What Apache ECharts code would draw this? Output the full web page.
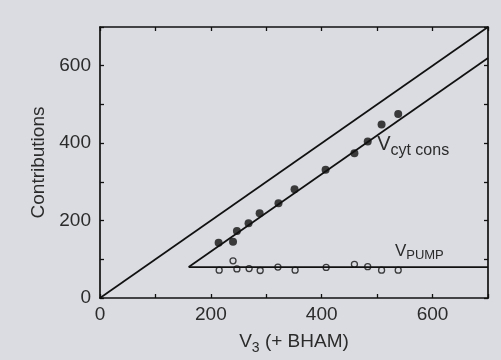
<!DOCTYPE html>
<html>
<head>
<meta charset="utf-8">
<script src="https://cdn.jsdelivr.net/npm/echarts@6/dist/echarts.min.js"></script>
<style>
html,body{margin:0;padding:0;background:#dadce2;}
#chart{width:501px;height:360px;}
</style>
</head>
<body>
<div id="chart"></div>
<script>
// ---- data ----
var xTickLabels = [0, 200, 400, 600];
var yTickLabels = [0, 200, 400, 600];
var identityLine = [[0, 0], [700, 700]];
var cytConsLine = [[160, 80], [700, 620]];
var pumpLine = [[160, 80], [700, 80]];
var cytConsPoints = [[214,143],[240,145],[247,173],[268,193],[288,219],[322,245],[351,281],[407,331],[459,374],[483,404],[508,448],[538,475]];
var pumpPoints = [[215,72],[240,96],[247,75],[269,76],[289,71],[321,80],[352,72],[408,79],[459,87],[483,81],[508,72],[538,72]];
var cytLabelAt = [500, 396];
var pumpLabelAt = [532, 121];

var FONT = "'Liberation Sans', Arial, sans-serif";
var INK = '#111';
var TXT = '#2b2b2b';

function axisBase(pos, showLabel, ticks) {
  return {
    type: 'value', min: 0, max: 700, interval: 100, position: pos,
    axisLine: { show: true, onZero: false, lineStyle: { color: INK, width: 1.7 } },
    axisTick: { show: true, inside: true, length: 4, lineStyle: { color: INK, width: 1.3 } },
    splitLine: { show: false },
    axisLabel: {
      show: showLabel, fontFamily: FONT, fontSize: 19, color: TXT, margin: 7,
      formatter: function (v) { return ticks.indexOf(v) >= 0 ? String(v) : ''; }
    }
  };
}

var chart = echarts.init(document.getElementById('chart'), null, { renderer: 'canvas' });

var xBottom = axisBase('bottom', true, xTickLabels);
xBottom.name = '{v|V}{s|3}{t| (+ BHAM)}';
xBottom.nameLocation = 'middle';
xBottom.nameGap = 30;
xBottom.nameTextStyle = {
  fontFamily: FONT, color: TXT,
  rich: {
    v: { fontFamily: FONT, fontSize: 19, lineHeight: 27, color: TXT },
    s: { fontFamily: FONT, fontSize: 14, lineHeight: 14, verticalAlign: 'bottom', color: TXT },
    t: { fontFamily: FONT, fontSize: 19, lineHeight: 27, color: TXT }
  }
};
var xTop = axisBase('top', false, xTickLabels);

var yLeft = axisBase('left', true, yTickLabels);
yLeft.axisLabel.margin = 9;
yLeft.name = 'Contributions';
yLeft.nameLocation = 'middle';
yLeft.nameGap = 50;
yLeft.nameTextStyle = { fontFamily: FONT, fontSize: 19, color: TXT };
var yRight = axisBase('right', false, yTickLabels);

chart.setOption({
  backgroundColor: '#dadce2',
  animation: false,
  grid: { left: 100, right: 13, top: 27, bottom: 62, containLabel: false },
  xAxis: [xBottom, xTop],
  yAxis: [yLeft, yRight],
  series: [
    { type: 'line', data: identityLine, symbol: 'none', lineStyle: { color: INK, width: 1.7 }, silent: true },
    { type: 'line', data: cytConsLine, symbol: 'none', lineStyle: { color: INK, width: 1.7 }, silent: true,
      markPoint: {
        symbol: 'circle', symbolSize: 0,
        data: [{ coord: cytLabelAt, value: 'cyt' }],
        label: {
          show: true, position: 'inside', align: 'left', verticalAlign: 'middle',
          formatter: '{v|V}{s|cyt cons}',
          rich: {
            v: { fontFamily: FONT, fontSize: 20, lineHeight: 27, color: TXT },
            s: { fontFamily: FONT, fontSize: 16, lineHeight: 16, verticalAlign: 'bottom', color: TXT }
          }
        }
      }
    },
    { type: 'line', data: pumpLine, symbol: 'none', lineStyle: { color: INK, width: 1.7 }, silent: true,
      markPoint: {
        symbol: 'circle', symbolSize: 0,
        data: [{ coord: pumpLabelAt, value: 'pump' }],
        label: {
          show: true, position: 'inside', align: 'left', verticalAlign: 'middle',
          formatter: '{v|V}{s|PUMP}',
          rich: {
            v: { fontFamily: FONT, fontSize: 17, lineHeight: 22, color: TXT },
            s: { fontFamily: FONT, fontSize: 13, lineHeight: 15, verticalAlign: 'bottom', color: TXT }
          }
        }
      }
    },
    { type: 'scatter', data: cytConsPoints, symbol: 'circle', symbolSize: 8,
      itemStyle: { color: INK, borderWidth: 0 }, silent: true },
    { type: 'scatter', data: pumpPoints, symbol: 'circle', symbolSize: 6,
      itemStyle: { color: 'rgba(0,0,0,0)', borderColor: INK, borderWidth: 1.3 }, silent: true }
  ]
});
</script>
</body>
</html>
